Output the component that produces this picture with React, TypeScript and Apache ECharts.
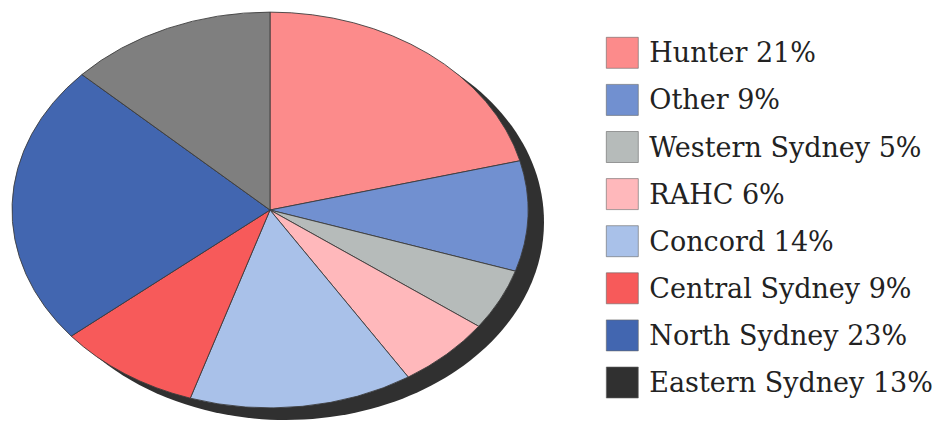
import React, { useEffect, useRef } from "react";
import * as echarts from "echarts";

const categories = [
  "Hunter",
  "Other",
  "Western Sydney",
  "RAHC",
  "Concord",
  "Central Sydney",
  "North Sydney",
  "Eastern Sydney",
];
const shares = [21, 9, 5, 6, 14, 9, 23, 13];
const sliceColors = [
  "#fc8b8b",
  "#7190d0",
  "#b6bbba",
  "#ffb8bb",
  "#a9c1e9",
  "#f75a5a",
  "#4266b0",
  "#7f7f7f",
];
const legendColors = [
  "#fc8b8b",
  "#7190d0",
  "#b6bbba",
  "#ffb8bb",
  "#a9c1e9",
  "#f75a5a",
  "#4266b0",
  "#303030",
];

const CX = 270;
const CY = 210;
const RX = 258;
const RY = 198;

export default function App() {
  const ref = useRef<HTMLDivElement>(null);

  useEffect(() => {
    document.body.style.margin = "0";
    const chart = echarts.init(ref.current!, null, { renderer: "svg" });
    const total = shares.reduce((a, b) => a + b, 0);

    const series = categories.map((name, i) => {
      const before = shares.slice(0, i).reduce((a, b) => a + b, 0);
      return {
        type: "custom",
        name,
        coordinateSystem: "none",
        itemStyle: { color: sliceColors[i] },
        data: [[shares[i]]],
        z: 3,
        renderItem: (_params: any, api: any) => {
          const v = api.value(0);
          const s = -Math.PI / 2 + (before / total) * Math.PI * 2;
          const e = -Math.PI / 2 + ((before + v) / total) * Math.PI * 2;
          return {
            type: "sector",
            x: CX,
            y: CY,
            scaleY: RY / RX,
            shape: { cx: 0, cy: 0, r0: 0, r: RX, startAngle: s, endAngle: e, clockwise: true },
            style: {
              fill: sliceColors[i],
              stroke: "#3c3c3c",
              lineWidth: 1,
              strokeNoScale: true,
            },
          };
        },
      };
    });

    chart.setOption({
      animation: false,
      graphic: [
        {
          type: "ellipse",
          z: 0,
          shape: { cx: CX + 16, cy: CY + 12, rx: RX, ry: RY },
          style: { fill: "#303030" },
        },
      ],
      legend: {
        orient: "vertical",
        left: 606,
        top: 37,
        padding: 0,
        itemWidth: 32,
        itemHeight: 31,
        itemGap: 15.5,
        selectedMode: false,
        icon: "rect",
        data: categories.map((name, i) => ({
          name,
          itemStyle: { color: legendColors[i], borderColor: "#666", borderWidth: 0.6 },
        })),
        formatter: (name: string) => {
          const idx = categories.indexOf(name);
          return `${name} ${shares[idx]}%`;
        },
        textStyle: {
          fontFamily: "DejaVu Serif",
          fontSize: 27,
          color: "#222",
          padding: [10, 0, 0, 6],
        },
      },
      series,
    });

    return () => chart.dispose();
  }, []);

  return <div ref={ref} style={{ width: 945, height: 428 }} />;
}
